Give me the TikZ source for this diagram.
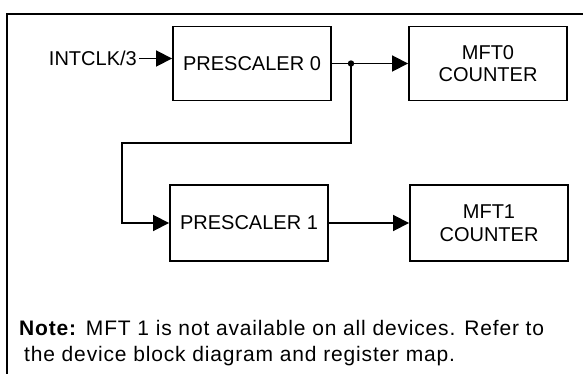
\documentclass[tikz,border=0pt]{standalone}
\usepackage{fontspec}
\setmainfont{Liberation Sans}
\newfontfamily\notefont[LetterSpace=4]{Liberation Sans}
\usetikzlibrary{arrows.meta}
\usetikzlibrary{positioning}

\tikzset{
  blockbox/.style={draw, line width=1.9pt, minimum width=158pt, minimum height=74pt,
    align=center, inner sep=2pt, font=\fontsize{20}{22.5}\selectfont},
  flow/.style={line width=1.8pt, -{Triangle[length=16pt,width=16pt]}},
}

\begin{document}
\begin{tikzpicture}[x=1pt,y=-1pt]
                \useasboundingbox (0,0) rectangle (583,374);
                % frame
                \draw[line width=2.6pt] (7,376) -- (7,14) -- (590,14);
                % blocks
                \node[blockbox] (pre0) at (252,63.5) {PRESCALER 0};
                \node[blockbox] (mft0) at (488,63.5) {MFT0\\COUNTER};
                \node[blockbox, minimum height=76pt] (pre1) at (249,223) {PRESCALER 1};
                \node[blockbox, minimum height=76pt] (mft1) at (489,223) {MFT1\\COUNTER};
                \node[anchor=east, inner sep=2pt, font=\fontsize{20}{22}\selectfont] (clk) at (139,58.5) {INTCLK/3};
                % connectors
                \coordinate (split) at (351,63.5);
                \coordinate (bendA) at (351,143);
                \coordinate (bendB) at (122,143);
                \draw[flow] (clk.east) -- (clk.east -| pre0.west);
                \draw[flow] (pre0.east) -- (mft0.west);
                \draw[flow] (split) -- (bendA) -- (bendB) |- (pre1.west);
                \draw[flow] (pre1.east) -- (mft1.west);
                \fill (split) circle (3.2pt);
                % note
                \node[anchor=base west, align=left, inner sep=0pt,
                  font=\notefont\fontsize{21}{26}\selectfont] (note) at (19,361)
                  {\textbf{Note:} MFT 1 is not available on all devices. Refer to\\
                   \hspace{5pt}the device block diagram and register map.};
\end{tikzpicture}
\end{document}
